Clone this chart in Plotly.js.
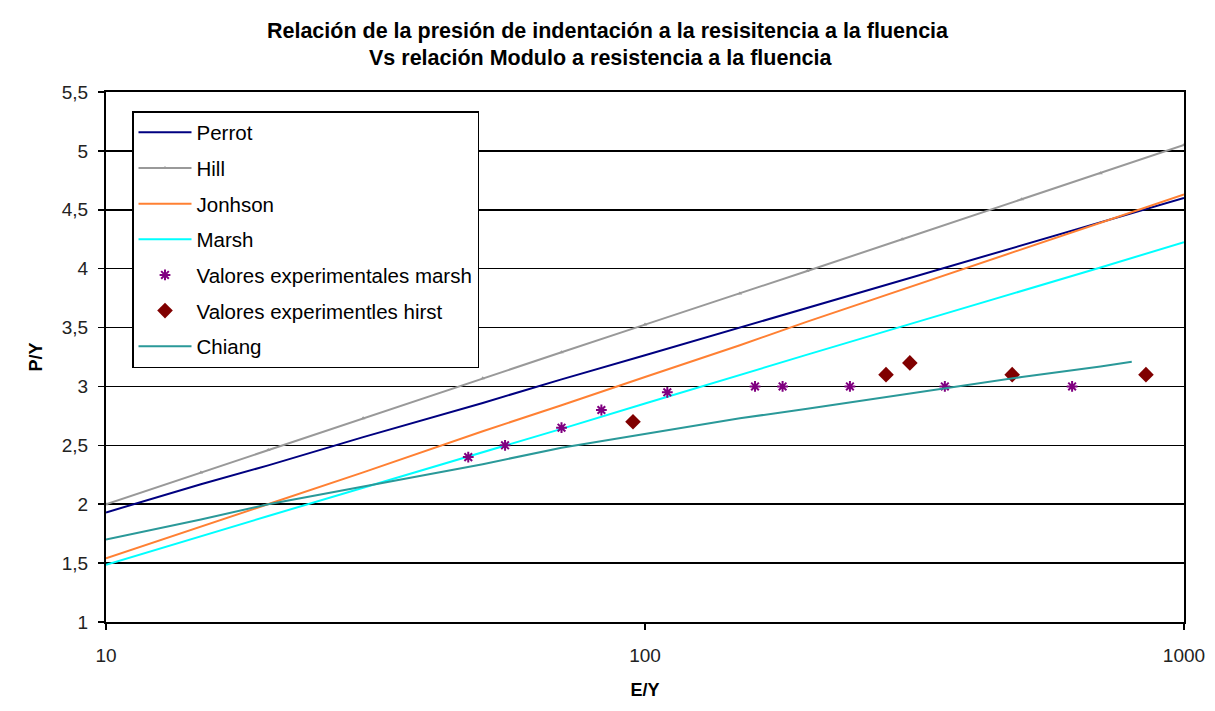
<!DOCTYPE html>
<html>
<head>
<meta charset="utf-8">
<script src="https://cdn.plot.ly/plotly-3.0.1.min.js"></script>
<style>
  html, body { margin: 0; padding: 0; background: #ffffff; }
  #chart { width: 1215px; height: 711px; }
</style>
</head>
<body>
<div id="chart"></div>
<script>
// E/Y values at which the model curves are evaluated
const lineE = [10, 15, 20, 30, 50, 70, 100, 150, 200, 300, 500, 700, 1000];

// P/Y for each model
const perrot  = [1.93, 2.17, 2.33, 2.57, 2.86, 3.06, 3.265, 3.50, 3.67, 3.90, 4.20, 4.39, 4.60];
const hill    = [2.00, 2.27, 2.46, 2.73, 3.07, 3.29, 3.525, 3.79, 3.98, 4.25, 4.59, 4.81, 5.05];
const jonhson = [1.54, 1.81, 2.00, 2.27, 2.62, 2.84, 3.08, 3.35, 3.55, 3.82, 4.16, 4.39, 4.63];
const marsh   = [1.485, 1.73, 1.90, 2.14, 2.44, 2.64, 2.855, 3.10, 3.27, 3.51, 3.81, 4.01, 4.225];

// Chiang curve stops at E/Y = 800
const chiangE = [10, 15, 20, 30, 50, 70, 100, 150, 200, 300, 500, 700, 800];
const chiang  = [1.70, 1.87, 2.00, 2.15, 2.34, 2.48, 2.60, 2.73, 2.81, 2.93, 3.08, 3.17, 3.21];

// Experimental values (Marsh)
const marshExpE = [47, 55, 70, 83, 110, 160, 180, 240, 360, 620];
const marshExp  = [2.40, 2.50, 2.65, 2.80, 2.95, 3.00, 3.00, 3.00, 3.00, 3.00];

// Experimental values (Hirst)
const hirstExpE = [95, 280, 310, 480, 850];
const hirstExp  = [2.70, 3.10, 3.20, 3.10, 3.10];

// Axis ticks
const xTickVals = [10, 100, 1000];
const xTickText = ['10', '100', '1000'];
const yTickVals = [1, 1.5, 2, 2.5, 3, 3.5, 4, 4.5, 5, 5.5];
const yTickText = ['1', '1,5', '2', '2,5', '3', '3,5', '4', '4,5', '5', '5,5'];

const FONT = 'Liberation Sans, Arial, sans-serif';

function lineTrace(name, x, y, color, extra) {
  return Object.assign({
    type: 'scatter', mode: 'lines', name: name, legendgroup: name,
    x: x, y: y, line: { color: color, width: 2 }
  }, extra || {});
}

const data = [
  lineTrace('Perrot', lineE, perrot, '#000080'),
  lineTrace('Hill', lineE, hill, '#999999', {
    mode: 'lines+markers',
    marker: { symbol: 'triangle-up', size: 4, color: '#999999' }
  }),
  lineTrace('Jonhson', lineE, jonhson, '#FF8033'),
  lineTrace('Marsh', lineE, marsh, '#00FFFF'),
  {
    type: 'scatter', mode: 'markers', name: 'Valores experimentales marsh',
    legendgroup: 'vm', x: marshExpE, y: marshExp,
    marker: { symbol: 'asterisk-open', size: 9, line: { color: '#800080', width: 2 }, color: '#800080' }
  },
  {
    type: 'scatter', mode: 'markers', name: 'Valores experimentles hirst',
    legendgroup: 'vh', x: hirstExpE, y: hirstExp,
    marker: { symbol: 'diamond', size: 12, color: '#800000' }
  },
  lineTrace('Chiang', chiangE, chiang, '#2A9999')
];

const layout = {
  width: 1215, height: 711,
  paper_bgcolor: '#ffffff', plot_bgcolor: '#ffffff',
  margin: { l: 106, r: 31, t: 92, b: 89 },
  font: { family: FONT, size: 19, color: '#000000' },
  title: {
    text: '<b>Relación de la presión de indentación a la resisitencia a la fluencia</b>',
    font: { family: FONT, size: 21.5, color: '#000000' },
    x: 0.5, xref: 'container', xanchor: 'center',
    y: 1 - 30 / 711, yref: 'container', yanchor: 'middle'
  },
  annotations: [{
    text: '<b>Vs relación Modulo a resistencia a la fluencia</b>',
    font: { family: FONT, size: 21.5, color: '#000000' },
    xref: 'paper', yref: 'paper', x: (600 - 106) / 1078, y: (622 - 58) / 530,
    xanchor: 'center', yanchor: 'middle', showarrow: false
  }],
  xaxis: {
    type: 'log', range: [1, 3],
    tickvals: xTickVals, ticktext: xTickText,
    ticks: 'outside', ticklen: 6, tickwidth: 1.5, tickcolor: '#000',
    ticklabelstandoff: 9,
    showgrid: false, zeroline: false,
    showline: true, linecolor: '#000', linewidth: 2, mirror: true,
    tickfont: { family: FONT, size: 19, color: '#222' },
    title: { text: '<b>E/Y</b>', font: { family: FONT, size: 18, color: '#000' }, standoff: 19 }
  },
  yaxis: {
    range: [1, 5.5],
    tickvals: yTickVals, ticktext: yTickText,
    ticks: 'outside', ticklen: 6, tickwidth: 1.5, tickcolor: '#000',
    ticklabelstandoff: 6,
    showgrid: true, gridcolor: '#000', gridwidth: 1.5, zeroline: false,
    showline: true, linecolor: '#000', linewidth: 2, mirror: true,
    tickfont: { family: FONT, size: 19, color: '#222' },
    title: { text: '<b>P/Y</b>', font: { family: FONT, size: 18, color: '#000' }, standoff: 14 }
  },
  showlegend: true,
  legend: {
    x: (132 - 106) / 1078, y: (622 - 111) / 530,
    xanchor: 'left', yanchor: 'top',
    bgcolor: '#ffffff', bordercolor: '#000', borderwidth: 1.5,
    font: { family: FONT, size: 20.5, color: '#000' },
    itemwidth: 53,
    tracegroupgap: 6, traceorder: 'grouped'
  }
};

Plotly.newPlot('chart', data, layout, { displayModeBar: false, staticPlot: true });
</script>
</body>
</html>
